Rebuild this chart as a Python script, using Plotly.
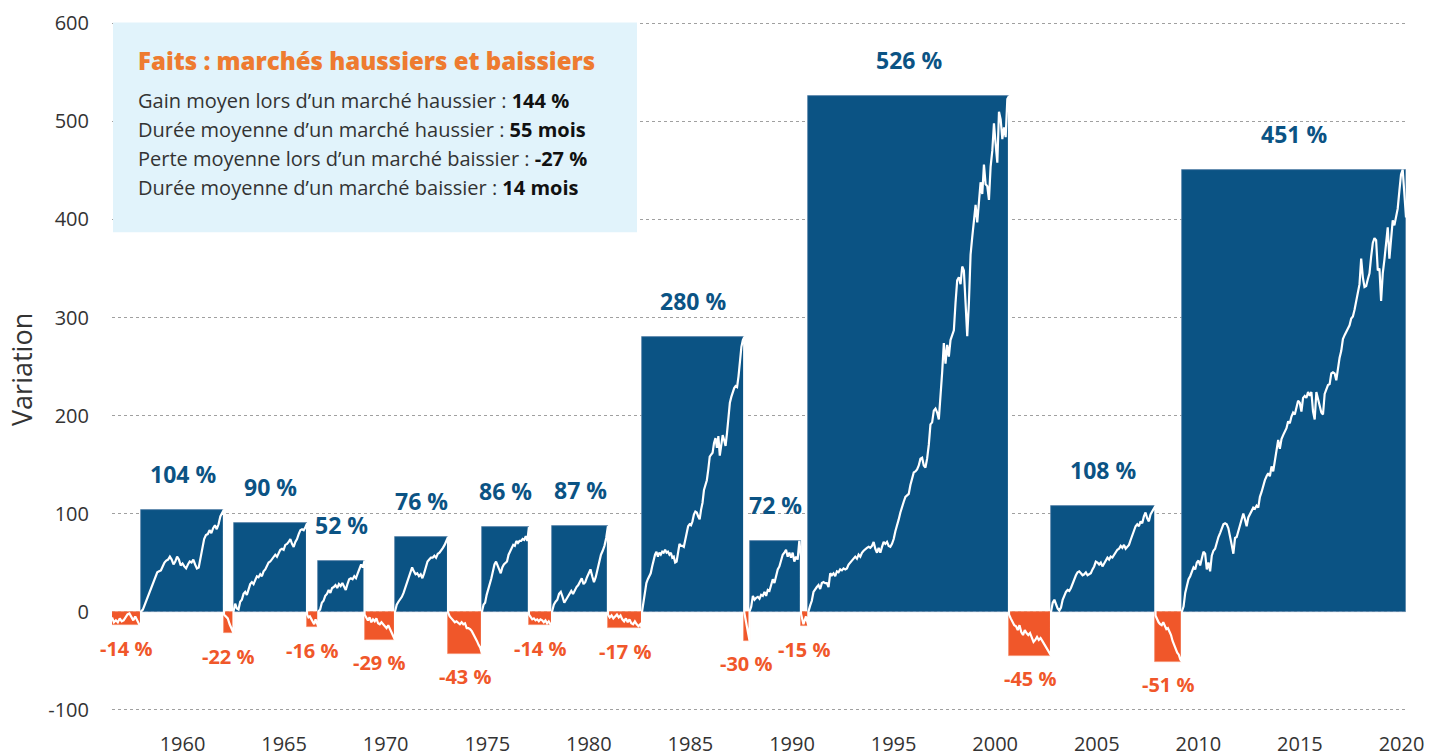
import numpy as np
import plotly.graph_objects as go

# Market phases: start (decimal year) and cumulative change (%) of each phase
phase_start = [1956.53, 1957.96, 1962.04, 1962.51, 1966.13, 1966.69, 1968.96, 1970.46,
               1973.07, 1974.74, 1977.05, 1978.19, 1980.94, 1982.62, 1987.65, 1987.91,
               1990.44, 1990.81, 2000.68, 2002.75, 2007.89, 2009.19]
phase_end = phase_start[1:] + [2020.22]
phase_change = [-14, 104, -22, 90, -16, 52, -29, 76, -43, 86, -14, 87, -17, 280,
                -30, 72, -15, 526, -45, 108, -51, 451]

# Cumulative performance within each phase (%), sampled through the phase
path_01 = [-6, -11, -9, -11, -7, -10, -9, -6, -3, -2, -5, -9, -5, -10, -13, -14]
path_02 = [0, 2, 7, 11, 15, 20, 25, 30, 35, 40, 41, 42, 46, 50, 52, 53, 56, 53, 48, 51,
           56, 53, 47, 49, 46, 44, 48, 51, 50, 53, 48, 44, 45, 55, 68, 74, 78, 79, 83, 80,
           85, 88, 84, 89, 97, 100, 104]
path_03 = [-3, -5, -7, -13, -17, -22]
path_04 = [0, 8, 3, 2, 10, 12, 18, 20, 17, 23, 28, 30, 28, 32, 36, 35, 38, 36, 41, 43,
           46, 50, 51, 53, 56, 58, 56, 60, 63, 64, 63, 68, 69, 71, 74, 69, 66, 71, 74, 79,
           83, 84, 83, 86, 90]
path_05 = [-3, -6, -5, -8, -10, -13, -8, -12, -16]
path_06 = [0, 2, 9, 11, 16, 18, 22, 19, 24, 25, 27, 24, 28, 26, 29, 25, 22, 28, 33, 34,
           33, 36, 34, 39, 43, 48, 45, 52]
path_07 = [-3, -6, -9, -6, -11, -8, -10, -7, -12, -13, -11, -13, -15, -17, -14, -18,
           -21, -25, -29]
path_08 = [0, 7, 10, 12, 15, 19, 24, 28, 33, 39, 45, 41, 38, 39, 36, 38, 34, 39, 46, 51,
           53, 55, 55, 57, 55, 59, 60, 62, 65, 68, 72, 76]
path_09 = [-1, -5, -7, -9, -11, -10, -12, -13, -11, -13, -12, -17, -17, -18, -20, -23,
           -27, -30, -34, -37, -43]
path_10 = [0, 7, 9, 17, 22, 29, 34, 41, 48, 51, 46, 43, 39, 45, 48, 50, 51, 58, 61, 65,
           68, 67, 72, 70, 72, 72, 74, 73, 77, 72, 86]
path_11 = [-3, -6, -8, -7, -9, -8, -10, -8, -9, -11, -9, -12, -10, -13, -14]
path_12 = [0, 7, 10, 12, 18, 20, 15, 9, 12, 15, 18, 21, 18, 22, 25, 27, 30, 34, 28, 30,
           35, 39, 43, 36, 30, 35, 43, 53, 58, 62, 67, 75, 87]
path_13 = [-3, -6, -4, -7, -5, -3, -6, -4, -8, -10, -7, -11, -8, -12, -13, -10, -13,
           -15, -13, -17]
path_14 = [0, 9, 19, 29, 33, 36, 39, 46, 53, 58, 61, 56, 60, 58, 61, 60, 63, 60, 61, 58,
           60, 55, 56, 50, 51, 63, 69, 67, 67, 66, 73, 80, 87, 89, 88, 92, 99, 102, 101,
           97, 94, 104, 111, 124, 128, 134, 145, 158, 160, 162, 172, 177, 167, 179, 159,
           170, 180, 175, 169, 182, 196, 213, 219, 224, 228, 230, 229, 240, 257, 270,
           277, 280]
path_15 = [-1, -15, -30]
path_16 = [0, 5, 16, 12, 14, 15, 13, 17, 16, 20, 16, 22, 21, 26, 33, 29, 36, 43, 46, 52,
           58, 60, 63, 56, 60, 55, 60, 51, 56, 53, 72, 56]
path_17 = [-2, -13, -5, -15]
path_18 = [0, 6, 11, 20, 23, 25, 27, 23, 29, 30, 29, 29, 25, 39, 37, 39, 36, 41, 40, 43,
           42, 44, 43, 44, 48, 50, 52, 53, 56, 54, 58, 56, 60, 62, 64, 65, 66, 65, 67, 71,
           64, 60, 65, 60, 66, 71, 69, 71, 67, 66, 69, 74, 82, 87, 94, 101, 108, 112, 117,
           119, 120, 129, 135, 142, 143, 145, 149, 156, 157, 149, 147, 156, 170, 191, 193,
           205, 207, 203, 196, 217, 244, 274, 253, 272, 260, 277, 283, 287, 315, 338, 341,
           334, 352, 348, 315, 281, 315, 364, 382, 401, 415, 397, 417, 438, 426, 456, 436,
           434, 420, 454, 470, 498, 477, 458, 510, 502, 482, 494, 484, 523, 526]
path_19 = [-3, -7, -10, -14, -15, -19, -14, -21, -24, -19, -22, -24, -22, -27, -31, -29,
           -26, -29, -27, -30, -33, -36, -38, -41, -45]
path_20 = [0, 9, 12, 7, 3, 1, 4, 12, 17, 20, 22, 21, 24, 29, 33, 37, 40, 41, 39, 37, 38,
           40, 37, 38, 39, 43, 46, 51, 50, 48, 50, 46, 49, 52, 55, 53, 56, 55, 58, 60, 63,
           64, 67, 65, 68, 64, 66, 68, 73, 78, 84, 87, 89, 87, 92, 90, 97, 101, 95, 92, 99,
           102, 105, 108]
path_21 = [-4, -8, -11, -13, -14, -11, -15, -18, -17, -20, -24, -30, -34, -39, -42, -44,
           -49, -51]
path_22 = [0, 5, 19, 26, 33, 36, 41, 45, 43, 50, 52, 47, 54, 61, 59, 43, 50, 41, 57, 62,
           64, 71, 76, 80, 85, 89, 90, 89, 85, 78, 68, 59, 75, 76, 82, 89, 96, 100, 94, 87,
           96, 99, 103, 106, 105, 108, 106, 117, 122, 129, 134, 138, 141, 138, 148, 143,
           155, 162, 175, 166, 176, 180, 183, 187, 194, 192, 199, 203, 201, 210, 215, 213,
           204, 218, 220, 218, 224, 220, 224, 204, 196, 224, 218, 210, 203, 201, 222, 227,
           231, 232, 243, 244, 243, 236, 250, 259, 266, 278, 282, 285, 289, 292, 299, 301,
           308, 317, 327, 334, 360, 341, 331, 332, 339, 345, 362, 376, 381, 379, 348, 350,
           317, 345, 359, 373, 392, 360, 385, 399, 394, 401, 411, 429, 446, 451, 425, 402]

paths = [path_01, path_02, path_03, path_04, path_05, path_06, path_07, path_08, path_09,
         path_10, path_11, path_12, path_13, path_14, path_15, path_16, path_17, path_18,
         path_19, path_20, path_21, path_22]

x_ticks = [1960, 1965, 1970, 1975, 1980, 1985, 1990, 1995, 2000, 2005, 2010, 2015, 2020]
y_ticks = [-100, 0, 100, 200, 300, 400, 500, 600]
y_tick_text = ["-100", "0", "100", "200", "300", "400", "500", "600"]

BLUE = "#0B5384"
ORANGE = "#F0572A"
TEXT = "#333333"

mid = [(s + e) / 2 for s, e in zip(phase_start, phase_end)]
dur = [e - s for s, e in zip(phase_start, phase_end)]
bar_colors = [BLUE if c > 0 else ORANGE for c in phase_change]
edge_colors = ["#5d88ab" if c > 0 else "#f58d6a" for c in phase_change]

fig = go.Figure()
fig.add_trace(go.Bar(
    x=mid, y=phase_change, width=dur,
    marker=dict(color=bar_colors, line=dict(color=edge_colors, width=0.8)),
    hoverinfo="skip",
))

# White performance line running through every phase
line_x, line_y = [], []
for s, e, vals in zip(phase_start, phase_end, paths):
    line_x.extend(np.linspace(s, e, len(vals)))
    line_y.extend(vals)
fig.add_trace(go.Scatter(
    x=line_x, y=line_y, mode="lines",
    line=dict(color="white", width=2.2), hoverinfo="skip",
))

# Percentage labels above (bull) / below (bear) each bar
annotations = []
for xm, c in zip(mid, phase_change):
    up = c > 0
    annotations.append(dict(
        x=xm, y=c, xref="x", yref="y", text=f"{c} %", showarrow=False,
        xanchor="center", yanchor="middle", yshift=36 if up else -23,
        font=dict(family="Open Sans", size=23 if up else 20,
                  color=BLUE if up else ORANGE, weight="bold"),
    ))

# Plot area in pixels: values 600 and -100 sit at y = 23 and y = 710
Y_MIN, Y_MAX = -101.5, 601.5
plot_l, plot_r = 112, 1406
unit = 687 / 700
plot_t = 23 - (Y_MAX - 600) * unit
plot_b = 710 + (-100 - Y_MIN) * unit

def px(xp):
    return (xp - plot_l) / (plot_r - plot_l)

def py(yp):
    return (plot_b - yp) / (plot_b - plot_t)

# Fact box
shapes = [dict(type="rect", xref="paper", yref="paper",
               x0=px(113), x1=px(637), y0=py(232), y1=py(22),
               fillcolor="#E1F3FB", line=dict(width=0), layer="above")]

annotations.append(dict(
    x=px(136), y=py(60), xref="paper", yref="paper", xanchor="left", yanchor="middle",
    text="Faits : marchés haussiers et baissiers", showarrow=False,
    font=dict(family="Open Sans", size=24, color="#EE7B30", weight=800),
))
fact_lines = [
    ("Gain moyen lors d’un marché haussier : ", "144 %"),
    ("Durée moyenne d’un marché haussier : ", "55 mois"),
    ("Perte moyenne lors d’un marché baissier : ", "-27 %"),
    ("Durée moyenne d’un marché baissier : ", "14 mois"),
]
for i, (label, value) in enumerate(fact_lines):
    annotations.append(dict(
        x=px(136), y=py(100 + 29 * i), xref="paper", yref="paper",
        xanchor="left", yanchor="middle", showarrow=False,
        text=f"{label}<b><span style='color:#111111'>{value}</span></b>",
        font=dict(family="Open Sans", size=20, color=TEXT),
    ))

annotations.append(dict(
    x=px(22), y=py(370), xref="paper", yref="paper", xanchor="center", yanchor="middle",
    text="Variation", textangle=-90, showarrow=False,
    font=dict(family="Open Sans", size=27, color=TEXT),
))

fig.update_layout(
    width=1441, height=756,
    margin=dict(l=plot_l, r=1441 - plot_r, t=plot_t, b=756 - plot_b),
    plot_bgcolor="white", paper_bgcolor="white",
    showlegend=False, barmode="overlay", bargap=0,
    font=dict(family="Open Sans", color=TEXT),
    xaxis=dict(range=[1956.53, 2020.22], tickvals=x_ticks, showgrid=False,
               zeroline=False, showline=False, ticks="outside", ticklen=15,
               tickcolor="rgba(0,0,0,0)", tickfont=dict(size=20, color=TEXT),
               automargin=False),
    yaxis=dict(range=[Y_MIN, Y_MAX], tickvals=y_ticks, ticktext=y_tick_text,
               showgrid=True, gridcolor="#a0a0a0",
               griddash="dot", gridwidth=1, zeroline=False, showline=False,
               ticks="outside", ticklen=18, tickcolor="rgba(0,0,0,0)",
               tickfont=dict(size=20, color=TEXT), automargin=False),
    shapes=shapes,
    annotations=annotations,
)

fig.write_html("out.html")
